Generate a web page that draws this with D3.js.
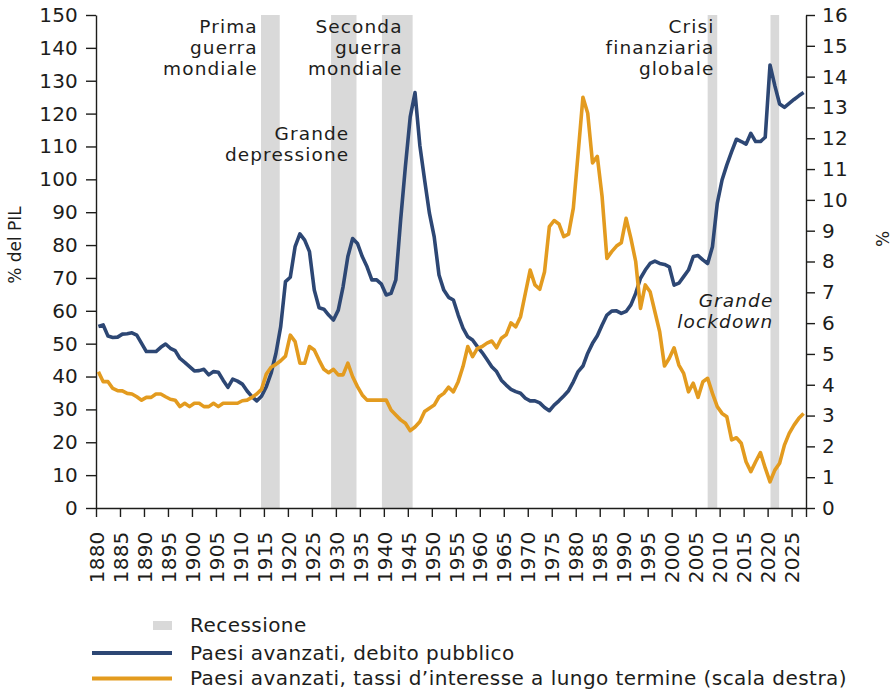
<!DOCTYPE html>
<html>
<head>
<meta charset="utf-8">
<script src="https://cdn.jsdelivr.net/npm/d3@7"></script>
<style>
  body { margin: 0; background: #fff; }
  svg { display: block; font-family: "DejaVu Sans", sans-serif; }
</style>
</head>
<body>
<svg id="chart" width="892" height="689"></svg>
<script>
/* ── data ── */
const years = d3.range(1880, 2028);

// Paesi avanzati, debito pubblico (% del PIL)
const debt = [
  55.2, 55.7, 52.3, 51.9, 52.0, 52.9, 53.0, 53.3, 52.6, 50.1,   // 1880s
  47.6, 47.6, 47.6, 48.9, 49.9, 48.6, 47.9, 45.5, 44.3, 43.0,   // 1890s
  41.7, 41.8, 42.2, 40.5, 41.5, 41.3, 38.9, 36.7, 39.2, 38.6,   // 1900s
  37.7, 35.6, 33.9, 32.6, 34.0, 36.9, 41.0, 47.0, 55.2, 68.9,   // 1910s
  70.2, 79.5, 83.4, 81.5, 78.0, 66.3, 60.9, 60.5, 58.7, 57.2,   // 1920s
  60.2, 67.3, 76.5, 82.0, 80.5, 76.5, 73.4, 69.4, 69.4, 68.1,   // 1930s
  64.8, 65.3, 69.4, 87.6, 104.0, 119.0, 126.4, 110.4, 99.8, 89.7, // 1940s
  82.5, 70.9, 66.3, 64.1, 63.3, 58.7, 54.7, 52.1, 51.1, 49.1,   // 1950s
  47.3, 45.2, 43.0, 41.5, 38.9, 37.4, 36.1, 35.4, 34.9, 33.4,   // 1960s
  32.6, 32.6, 32.0, 30.6, 29.6, 31.3, 32.6, 34.1, 35.7, 38.4,   // 1970s
  41.5, 43.2, 47.1, 50.1, 52.4, 55.7, 58.7, 59.9, 60.0, 59.2,   // 1980s
  59.8, 61.8, 65.3, 69.9, 72.4, 74.4, 75.1, 74.4, 74.1, 73.4,   // 1990s
  67.8, 68.4, 70.4, 72.4, 76.5, 76.8, 75.5, 74.4, 79.5, 92.7,   // 2000s
  99.8, 104.4, 108.4, 112.2, 111.5, 110.7, 114.0, 111.5, 111.5, 112.8, // 2010s
  134.8, 128.5, 122.9, 121.9, 123.1, 124.3, 125.4, 126.4        // 2020s
];

// Paesi avanzati, tassi d'interesse a lungo termine (%, scala destra)
const rates = [
  4.42, 4.10, 4.10, 3.88, 3.81, 3.80, 3.72, 3.70, 3.61, 3.50,
  3.59, 3.59, 3.70, 3.70, 3.61, 3.53, 3.50, 3.29, 3.40, 3.29,
  3.40, 3.40, 3.29, 3.29, 3.40, 3.29, 3.40, 3.40, 3.40, 3.40,
  3.48, 3.50, 3.59, 3.70, 3.85, 4.35, 4.57, 4.66, 4.78, 4.93,
  5.61, 5.40, 4.70, 4.70, 5.24, 5.13, 4.80, 4.50, 4.39, 4.50,
  4.32, 4.32, 4.70, 4.26, 3.94, 3.67, 3.50, 3.50, 3.50, 3.50,
  3.50, 3.18, 3.02, 2.86, 2.75, 2.51, 2.63, 2.80, 3.13, 3.24,
  3.34, 3.61, 3.72, 3.92, 3.77, 4.10, 4.59, 5.24, 4.91, 5.18,
  5.24, 5.35, 5.42, 5.20, 5.51, 5.62, 6.01, 5.88, 6.21, 6.97,
  7.72, 7.24, 7.10, 7.67, 9.13, 9.33, 9.22, 8.81, 8.89, 9.73,
  11.51, 13.33, 12.81, 11.20, 11.41, 10.10, 8.10, 8.32, 8.50, 8.61,
  9.40, 8.75, 8.00, 6.48, 7.24, 7.02, 6.37, 5.72, 4.61, 4.86,
  5.20, 4.64, 4.37, 3.77, 4.05, 3.59, 4.10, 4.21, 3.72, 3.29,
  3.07, 2.96, 2.21, 2.28, 2.10, 1.50, 1.18, 1.50, 1.80, 1.30,
  0.85, 1.23, 1.45, 2.04, 2.42, 2.69, 2.91, 3.07
];

// recession bands (start / end, in years)
const recStart = [1914.4, 1929.0, 1939.6, 2007.5, 2020.6];
const recEnd   = [1918.3, 1934.3, 1946.0, 2009.5, 2022.4];

const leftTicks  = d3.range(0, 151, 10);
const rightTicks = d3.range(0, 17, 1);
const yearTicks  = d3.range(1880, 2026, 5);

const seriesNames = [
  "Paesi avanzati, debito pubblico",
  "Paesi avanzati, tassi d\u2019interesse a lungo termine (scala destra)"
];

/* ── layout ── */
const svg = d3.select("#chart");
const margin = { top: 15, right: 86, bottom: 181, left: 96 };
const W = +svg.attr("width"), H = +svg.attr("height");
const width  = W - margin.left - margin.right;   // 710
const height = H - margin.top - margin.bottom;   // 493
const g = svg.append("g").attr("transform", `translate(${margin.left},${margin.top})`);

const INK = "#1d1d1b", BLUE = "#2d4774", ORANGE = "#e39b1f", GREY = "#d9d9d9";

const x  = d3.scaleLinear().domain([1880, 2028]).range([0, width]);
const yL = d3.scaleLinear().domain([0, 150]).range([height, 0]);
const yR = d3.scaleLinear().domain([0, 16]).range([height, 0]);

// recession bars
g.append("g").selectAll("rect")
  .data(d3.zip(recStart, recEnd))
  .join("rect")
  .attr("x", d => x(d[0]))
  .attr("width", d => x(d[1]) - x(d[0]))
  .attr("y", 0)
  .attr("height", height)
  .attr("fill", GREY);

// axes
function styleAxis(sel) {
  sel.attr("font-family", null).attr("font-size", 20);
  sel.selectAll("path, line").attr("stroke", INK).attr("stroke-width", 1.4);
  sel.selectAll("text").attr("fill", INK).style("letter-spacing", "0.2px");
}

g.append("g")
  .call(d3.axisLeft(yL).tickValues(leftTicks).tickSize(10).tickSizeOuter(0).tickPadding(8))
  .call(styleAxis);

g.append("g")
  .attr("transform", `translate(${width},0)`)
  .call(d3.axisRight(yR).tickValues(rightTicks).tickSize(9).tickSizeOuter(0).tickPadding(7))
  .call(styleAxis);

g.append("g")
  .attr("transform", `translate(0,${height})`)
  .call(d3.axisBottom(x).tickValues([...yearTicks, 2028]).tickSize(9).tickSizeOuter(0)
        .tickFormat(d => d === 2028 ? "" : d))
  .call(styleAxis)
  .selectAll("text")
  .attr("transform", "rotate(-90)")
  .attr("x", -23.5).attr("y", 0).attr("dy", "0.36em")
  .style("text-anchor", "end");

// axis titles
svg.append("text")
  .attr("transform", "translate(21,245) rotate(-90)")
  .attr("text-anchor", "middle").attr("font-size", 17).attr("fill", INK)
  .text("% del PIL");

svg.append("text")
  .attr("transform", "translate(889,239) rotate(-90)")
  .attr("text-anchor", "middle").attr("font-size", 17).attr("fill", INK)
  .text("%");

// event annotations (right-aligned, one text per line)
const notes = [
  { lines: ["Prima", "guerra", "mondiale"], year: 1913.5, top: 32.5 },
  { lines: ["Seconda", "guerra", "mondiale"], year: 1943.7, top: 32.5 },
  { lines: ["Grande", "depressione"], year: 1932.6, top: 140 },
  { lines: ["Crisi", "finanziaria", "globale"], year: 2008.7, top: 32.5 },
  { lines: ["Grande", "lockdown"], year: 2021.0, top: 306.5, italic: true }
];
notes.forEach(n => {
  n.lines.forEach((s, i) => {
    svg.append("text")
      .attr("text-anchor", "end").attr("font-size", 18.5).attr("fill", INK)
      .style("letter-spacing", "1.1px")
      .style("font-style", n.italic ? "italic" : null)
      .attr("x", margin.left + x(n.year) + 1)
      .attr("y", n.top + i * 21)
      .text(s);
  });
});

// lines
const line = yScale => d3.line()
  .x((d, i) => x(years[i] + 0.5))
  .y(d => yScale(d))
  .curve(d3.curveLinear);

g.append("path")
  .datum(debt)
  .attr("fill", "none").attr("stroke", BLUE).attr("stroke-width", 3.6)
  .attr("stroke-linejoin", "round")
  .attr("d", line(yL));

g.append("path")
  .datum(rates)
  .attr("fill", "none").attr("stroke", ORANGE).attr("stroke-width", 3.6)
  .attr("stroke-linejoin", "round")
  .attr("d", line(yR));

// legend
const lg = svg.append("g").attr("font-size", 20).attr("fill", INK).style("letter-spacing", "0.45px");
lg.append("rect").attr("x", 153).attr("y", 621).attr("width", 19).attr("height", 9).attr("fill", GREY);
lg.append("text").attr("x", 190).attr("y", 632).text("Recessione");

[BLUE, ORANGE].forEach((c, i) => {
  const yy = 653 + i * 25.5;
  lg.append("line").attr("x1", 92).attr("x2", 172).attr("y1", yy).attr("y2", yy)
    .attr("stroke", c).attr("stroke-width", 4);
  lg.append("text").attr("x", 190).attr("y", yy + 6.5).text(seriesNames[i]);
});
</script>
</body>
</html>
